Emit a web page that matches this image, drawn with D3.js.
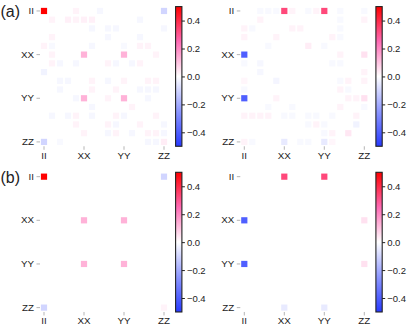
<!DOCTYPE html>
<html>
<head>
<meta charset="utf-8">
<script src="https://cdn.jsdelivr.net/npm/d3@7"></script>
<style>
body{margin:0;background:#fff;}
svg{display:block;font-family:"Liberation Sans",Arial,sans-serif;}
</style>
</head>
<body>
<svg id="chart" width="415" height="334"></svg>
<script>
// two-qubit Pauli basis, 16 rows / cols
const basis = ["II","IX","IY","IZ","XI","XX","XY","XZ","YI","YX","YY","YZ","ZI","ZX","ZY","ZZ"];
const tickLabels = ["II","XX","YY","ZZ"];
const cbTicks = [-0.4, -0.2, 0, 0.2, 0.4];
const cmapValues = [-0.5, -0.25, 0, 0.25, 0.5];
const cmapColors = ["#2639ff", "#8d97ff", "#ffffff", "#ff6ab4", "#ff0000"];
const panelTags = ["(a)", "(b)"];

// [row, col, value]
const aLeft = [
  ["II","II",0.5],["II","XI",0.02],["II","XZ",-0.02],["II","ZZ",-0.1],
  ["IX","IX",0.02],["IX","IZ",0.025],["IX","XI",0.02],["IX","XX",0.025],["IX","XY",0.025],["IX","ZI",-0.02],
  ["IY","XY",-0.02],["IY","YI",-0.02],["IY","YX",-0.02],["IY","ZZ",-0.02],
  ["IZ","IX",0.02],["IZ","YI",-0.02],["IZ","ZI",-0.02],
  ["XI","II",0.02],["XI","IX",-0.015],["XI","XY",-0.02],["XI","YY",-0.015],["XI","ZI",0.02],["XI","ZX",0.02],
  ["XX","IX",0.02],["XX","XX",0.13],["XX","YY",0.13],["XX","ZY",0.02],
  ["XY","IX",0.02],["XY","IY",-0.02],["XY","XI",-0.02],["XY","YI",0.02],["XY","YX",-0.02],["XY","YZ",-0.02],["XY","ZI",0.02],
  ["XZ","II",-0.03],
  ["YI","IY",-0.02],["YI","IZ",-0.02],["YI","XY",0.02],["YI","YI",-0.02],["YI","YY",0.02],["YI","ZX",0.02],["YI","ZY",0.02],
  ["YX","IY",-0.02],["YX","XY",0.02],["YX","YX",0.02],["YX","ZI",-0.02],["YX","ZX",-0.02],["YX","ZY",-0.02],
  ["YY","XI",-0.02],["YY","XX",0.13],["YY","YI",0.02],["YY","YY",0.13],["YY","ZX",-0.02],
  ["YZ","XY",-0.02],["YZ","YZ",0.02],
  ["ZI","IX",-0.02],["ZI","IZ",-0.02],["ZI","XI",0.02],["ZI","XY",-0.02],["ZI","YX",0.02],["ZI","YY",-0.02],["ZI","ZY",0.02],
  ["ZX","XI",0.02],["ZX","YI",0.02],["ZX","YX",-0.02],["ZX","ZI",0.02],["ZX","ZZ",-0.02],
  ["ZY","XX",0.02],["ZY","YI",-0.02],["ZY","YX",0.02],["ZY","YZ",-0.02],["ZY","ZX",0.02],["ZY","ZY",0.02],["ZY","ZZ",-0.02],
  ["ZZ","II",-0.1],["ZZ","IY",-0.015],["ZZ","ZX",-0.02],["ZZ","ZY",-0.02],["ZZ","ZZ",0.03]
];
const aRight = [
  ["II","IY",-0.015],["II","IZ",-0.015],["II","XI",-0.015],["II","XX",0.33],["II","XY",0.02],["II","YI",-0.015],["II","YX",0.02],["II","YY",0.33],["II","ZI",-0.015],["II","ZZ",-0.015],
  ["IX","IY",0.02],["IX","ZI",-0.015],["IX","ZZ",0.02],
  ["IY","II",0.02],["IY","IX",-0.015],["IY","XY",0.02],["IY","XZ",0.02],["IY","ZI",-0.015],
  ["IZ","II",0.02],["IZ","XI",0.02],["IZ","YZ",0.02],["IZ","ZI",-0.015],
  ["XI","IZ",-0.015],["XI","YI",0.03],["XI","YY",-0.015],
  ["XX","II",-0.4],["XX","ZI",0.02],["XX","ZZ",0.05],
  ["XY","II",-0.015],["XY","IY",-0.02],["XY","YZ",-0.015],["XY","ZI",-0.015],
  ["XZ","IY",-0.02],["XZ","ZZ",0.02],
  ["YI","II",0.015],["YI","XI",-0.025],["YI","ZI",-0.015],["YI","ZX",0.02],["YI","ZZ",0.02],
  ["YX","II",-0.015],["YX","ZI",0.02],["YX","ZX",-0.015],
  ["YY","II",-0.4],["YY","XI",0.02],["YY","ZX",0.02],["YY","ZY",0.02],["YY","ZZ",0.05],
  ["YZ","IZ",-0.015],["YZ","XY",-0.015],["YZ","ZI",0.02],["YZ","ZZ",-0.015],
  ["ZI","II",0.02],["ZI","IX",0.02],["ZI","IY",0.02],["ZI","IZ",0.02],["ZI","XX",-0.015],["ZI","XY",-0.015],["ZI","YI",-0.015],["ZI","YX",-0.015],["ZI","YZ",-0.015],["ZI","ZY",0.02],
  ["ZX","YI",-0.015],["ZX","YX",0.02],["ZX","YY",-0.015],["ZX","ZY",-0.03],
  ["ZY","YY",-0.015],["ZY","YZ",0.02],["ZY","ZX",0.04],
  ["ZZ","II",0.02],["ZZ","IX",-0.015],["ZZ","XX",-0.05],["ZZ","XZ",-0.015],["ZZ","YI",-0.015],["ZZ","YY",-0.05],["ZZ","YZ",0.015]
];
const bLeft = [
  ["II","II",0.5],["II","ZZ",-0.1],
  ["XX","XX",0.13],["XX","YY",0.13],
  ["YY","XX",0.13],["YY","YY",0.13],
  ["ZZ","II",-0.1],["ZZ","ZZ",0.02]
];
const bRight = [
  ["II","XX",0.33],["II","YY",0.33],
  ["XX","II",-0.4],["XX","ZZ",0.05],
  ["YY","II",-0.4],["YY","ZZ",0.05],
  ["ZZ","XX",-0.05],["ZZ","YY",-0.05]
];

const svg = d3.select("#chart");
const color = d3.scaleLinear().domain(cmapValues).range(cmapColors).clamp(true);

// shared colorbar gradient
const grad = svg.append("defs").append("linearGradient")
    .attr("id", "cbgrad")
    .attr("x1", 0).attr("y1", 1).attr("x2", 0).attr("y2", 0);
const cbDomain = d3.extent(cmapValues);
d3.range(0, 21).forEach(k => {
    const v = cbDomain[0] + (cbDomain[1] - cbDomain[0]) * k / 20;
    grad.append("stop").attr("offset", (k / 20 * 100) + "%").attr("stop-color", color(v));
});

const cellW = 8, cellH = 8.73;
const panels = [
    {data: aLeft,  left: 40,    top: 6.6},
    {data: aRight, left: 240.3, top: 6.6},
    {data: bLeft,  left: 40,    top: 172.3},
    {data: bRight, left: 240.3, top: 172.3}
];

const drawPanel = (p) => {
    const w = cellW * basis.length, h = cellH * basis.length;
    const x = d3.scaleBand().domain(basis).range([p.left, p.left + w]);
    const y = d3.scaleBand().domain(basis).range([p.top, p.top + h]);
    const g = svg.append("g");

    g.selectAll("rect.cell")
        .data(p.data)
        .join("rect")
        .attr("class", "cell")
        .attr("x", d => x(d[1]) + x.bandwidth() / 2 - 3.1)
        .attr("y", d => y(d[0]) + y.bandwidth() / 2 - 3.1)
        .attr("width", 6.2)
        .attr("height", 6.2)
        .attr("fill", d => color(d[2]));

    const xAxis = g.append("g")
        .attr("transform", "translate(0," + (p.top + h) + ")")
        .call(d3.axisBottom(x).tickValues(tickLabels).tickSize(3.5).tickPadding(2));
    const yAxis = g.append("g")
        .attr("transform", "translate(" + p.left + ",0)")
        .call(d3.axisLeft(y).tickValues(tickLabels).tickSize(3.5).tickPadding(2.5));
    [xAxis, yAxis].forEach(ax => {
        ax.select(".domain").remove();
        ax.selectAll(".tick line").attr("stroke", "#b5b5b5");
        ax.selectAll(".tick text").attr("fill", "#222").style("font-size", "9.8px").style("font-family", "'Liberation Sans', Arial, sans-serif");
    });

    // colorbar
    const cbx = p.left + w + 7.6, cbw = 6.3;
    const cb = d3.scaleLinear().domain(cbDomain).range([p.top + h, p.top]);
    g.append("rect")
        .attr("x", cbx).attr("y", p.top)
        .attr("width", cbw).attr("height", h)
        .attr("fill", "url(#cbgrad)")
        .attr("stroke", "#222").attr("stroke-width", 1.1);
    const cbAxis = g.append("g")
        .attr("transform", "translate(" + (cbx + cbw) + ",0)")
        .call(d3.axisRight(cb).tickValues(cbTicks).tickFormat(d3.format(".1f")).tickSize(3).tickPadding(2));
    cbAxis.select(".domain").remove();
    cbAxis.selectAll(".tick line").attr("stroke", "#222");
    cbAxis.selectAll(".tick text").attr("fill", "#222").style("font-size", "9.5px").style("font-family", "'Liberation Sans', Arial, sans-serif");
};

panels.forEach(drawPanel);

svg.selectAll("text.tag")
    .data(panelTags)
    .join("text")
    .attr("class", "tag")
    .attr("x", 0.5)
    .attr("y", (d, i) => i === 0 ? 17 : 182.5)
    .attr("fill", "#222")
    .style("font-size", "16px")
    .text(d => d);
</script>
</body>
</html>
